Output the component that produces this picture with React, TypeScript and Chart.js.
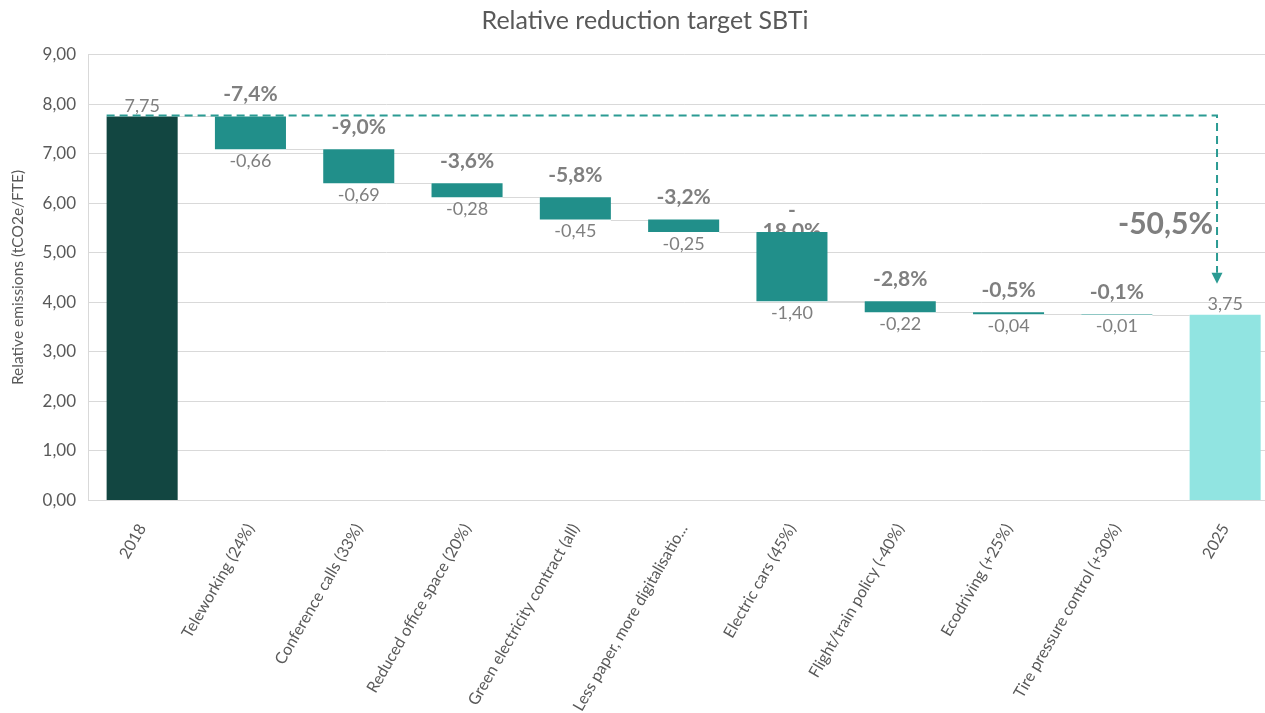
import React, { useEffect, useRef } from 'react';
import { Chart, registerables } from 'chart.js';

Chart.register(...registerables);

// ---------- data ----------
const chartTitle = 'Relative reduction target SBTi';
const yAxisTitle = 'Relative emissions (tCO2e/FTE)';

const categories = [
  '2018',
  'Teleworking (24%)',
  'Conference calls (33%)',
  'Reduced office space (20%)',
  'Green electricity contract (all)',
  'Less paper, more digitalisatio...',
  'Electric cars (45%)',
  'Flight/train policy (-40%)',
  'Ecodriving (+25%)',
  'Tire pressure control (+30%)',
  '2025',
];

const startValue = 7.75;
const stepDeltas = [-0.66, -0.69, -0.28, -0.45, -0.25, -1.4, -0.22, -0.04, -0.01];
const endValue = 3.75;

const stepPercentLabels = ['-7,4%', '-9,0%', '-3,6%', '-5,8%', '-3,2%', '-\n18,0%', '-2,8%', '-0,5%', '-0,1%'];
const totalPercentLabel = '-50,5%';

const yMin = 0;
const yMax = 9;
const yStep = 1;

// ---------- styles ----------
const FONT = 'Lato, "Open Sans", sans-serif';
const COLORS = {
  start: '#124641',
  step: '#218F8A',
  end: '#91E4E1',
  grid: '#D9D9D9',
  text: '#595959',
  label: '#7F7F7F',
  arrow: '#2B9B93',
};

const fmt = (v: number) => v.toFixed(2).replace('.', ',');

function buildWaterfall() {
  const bars: [number, number][] = [[0, startValue]];
  const levels: number[] = [startValue];
  let cur = startValue;
  for (const d of stepDeltas) {
    const next = Math.round((cur + d) * 100) / 100;
    bars.push([Math.min(cur, next), Math.max(cur, next)]);
    cur = next;
    levels.push(cur);
  }
  bars.push([0, endValue]);
  return { bars, levels };
}

export default function App() {
  const canvasRef = useRef<HTMLCanvasElement | null>(null);

  useEffect(() => {
    const canvas = canvasRef.current;
    if (!canvas) return;
    const { bars, levels } = buildWaterfall();
    const n = categories.length;
    const colors = categories.map((_, i) => (i === 0 ? COLORS.start : i === n - 1 ? COLORS.end : COLORS.step));

    const decor = {
      id: 'waterfallDecor',
      beforeDraw(chart: any) {
        const ctx = chart.ctx;
        ctx.save();
        ctx.font = `25px ${FONT}`;
        ctx.fillStyle = COLORS.text;
        ctx.textAlign = 'center';
        ctx.textBaseline = 'middle';
        ctx.fillText(chartTitle, chart.width / 2, 21);
        ctx.restore();
      },
      beforeDatasetsDraw(chart: any) {
        const ctx = chart.ctx;
        const meta = chart.getDatasetMeta(0);
        const ys = chart.scales.y;
        ctx.save();
        // connectors
        ctx.strokeStyle = COLORS.grid;
        ctx.lineWidth = 1;
        for (let i = 0; i < n - 1; i++) {
          const a = meta.data[i];
          const b = meta.data[i + 1];
          const py = Math.round(ys.getPixelForValue(levels[i])) + 0.5;
          ctx.beginPath();
          ctx.moveTo(a.x + a.width / 2, py);
          ctx.lineTo(b.x - b.width / 2, py);
          ctx.stroke();
        }
        // percentage labels (behind bars)
        ctx.font = `bold 21px ${FONT}`;
        ctx.fillStyle = COLORS.label;
        ctx.textAlign = 'center';
        ctx.textBaseline = 'middle';
        stepPercentLabels.forEach((lab, k) => {
          const i = k + 1;
          const top = ys.getPixelForValue(bars[i][1]);
          const lines = lab.split('\n');
          const lh = 21;
          const first = top - 22;
          lines.forEach((ln, j) => ctx.fillText(ln, meta.data[i].x, first + j * lh));
        });
        ctx.restore();
      },
      afterDatasetsDraw(chart: any) {
        const ctx = chart.ctx;
        const meta = chart.getDatasetMeta(0);
        const ys = chart.scales.y;
        const xs = chart.scales.x;
        ctx.save();
        ctx.font = `18px ${FONT}`;
        ctx.fillStyle = COLORS.label;
        ctx.textAlign = 'center';
        ctx.textBaseline = 'middle';
        // totals above start/end
        ctx.fillText(fmt(startValue), meta.data[0].x, ys.getPixelForValue(startValue) - 10);
        ctx.fillText(fmt(endValue), meta.data[n - 1].x, ys.getPixelForValue(endValue) - 10);
        // delta labels below step bars
        stepDeltas.forEach((d, k) => {
          const i = k + 1;
          const bottom = ys.getPixelForValue(bars[i][0]);
          ctx.fillText(fmt(d), meta.data[i].x, bottom + 12);
        });

        // dashed arrow
        const catW = xs.getPixelForValue(1) - xs.getPixelForValue(0);
        const x0 = meta.data[0].x - meta.data[0].width / 2;
        const yTop = ys.getPixelForValue(startValue) - 1;
        const xv = meta.data[n - 1].x - catW * 0.075;
        const tipY = ys.getPixelForValue(endValue) - 31;
        ctx.strokeStyle = COLORS.arrow;
        ctx.fillStyle = COLORS.arrow;
        ctx.lineWidth = 2;
        ctx.setLineDash([8, 5]);
        ctx.beginPath();
        ctx.moveTo(x0, yTop);
        ctx.lineTo(xv, yTop);
        ctx.lineTo(xv, tipY - 11);
        ctx.stroke();
        ctx.setLineDash([]);
        ctx.beginPath();
        ctx.moveTo(xv - 5.5, tipY - 11);
        ctx.lineTo(xv + 5.5, tipY - 11);
        ctx.lineTo(xv, tipY);
        ctx.closePath();
        ctx.fill();

        // total percentage
        ctx.font = `bold 30px ${FONT}`;
        ctx.fillStyle = COLORS.label;
        ctx.textAlign = 'right';
        ctx.textBaseline = 'middle';
        const mid = (ys.getPixelForValue(startValue) + ys.getPixelForValue(endValue)) / 2;
        ctx.fillText(totalPercentLabel, xv - 4, mid + 9);
        ctx.restore();
      },
    };

    const chart = new Chart(canvas, {
      type: 'bar',
      data: {
        labels: categories,
        datasets: [
          {
            data: bars as any,
            backgroundColor: colors,
            borderWidth: 0,
            barPercentage: 0.656,
            categoryPercentage: 1,
          },
        ],
      },
      options: {
        animation: false,
        responsive: false,
        maintainAspectRatio: false,
        layout: { padding: { top: 54.5, right: 10.7, left: 0, bottom: 0 } },
        plugins: {
          legend: { display: false },
          tooltip: { enabled: false },
          title: { display: false },
        },
        scales: {
          x: {
            grid: { display: false },
            border: { display: true, color: COLORS.grid, width: 1 },
            ticks: {
              autoSkip: false,
              maxRotation: 60,
              minRotation: 60,
              padding: 12,
              color: COLORS.text,
              font: { family: FONT, size: 16 },
            },
            afterFit: (scale: any) => {
              scale.height = 212.5;
            },
          },
          y: {
            min: yMin,
            max: yMax,
            ticks: {
              stepSize: yStep,
              padding: 12,
              color: COLORS.text,
              font: { family: FONT, size: 17 },
              callback: (v: any) => fmt(Number(v)),
            },
            grid: { color: COLORS.grid, drawTicks: false, lineWidth: 1 },
            border: { display: true, color: COLORS.grid, width: 1 },
            title: {
              display: true,
              text: yAxisTitle,
              color: COLORS.text,
              font: { family: FONT, size: 15.5 },
              padding: { top: 9, bottom: 0 },
            },
            afterFit: (scale: any) => {
              scale.width = 88;
            },
          },
        },
      },
      plugins: [decor],
    });

    return () => chart.destroy();
  }, []);

  return (
    <div
      style={{
        position: 'fixed',
        left: 0,
        top: 0,
        width: 1265,
        height: 713,
        overflow: 'hidden',
        background: '#ffffff',
      }}
    >
      <canvas ref={canvasRef} width={1290} height={713} style={{ display: 'block', width: 1290, height: 713 }} />
    </div>
  );
}
